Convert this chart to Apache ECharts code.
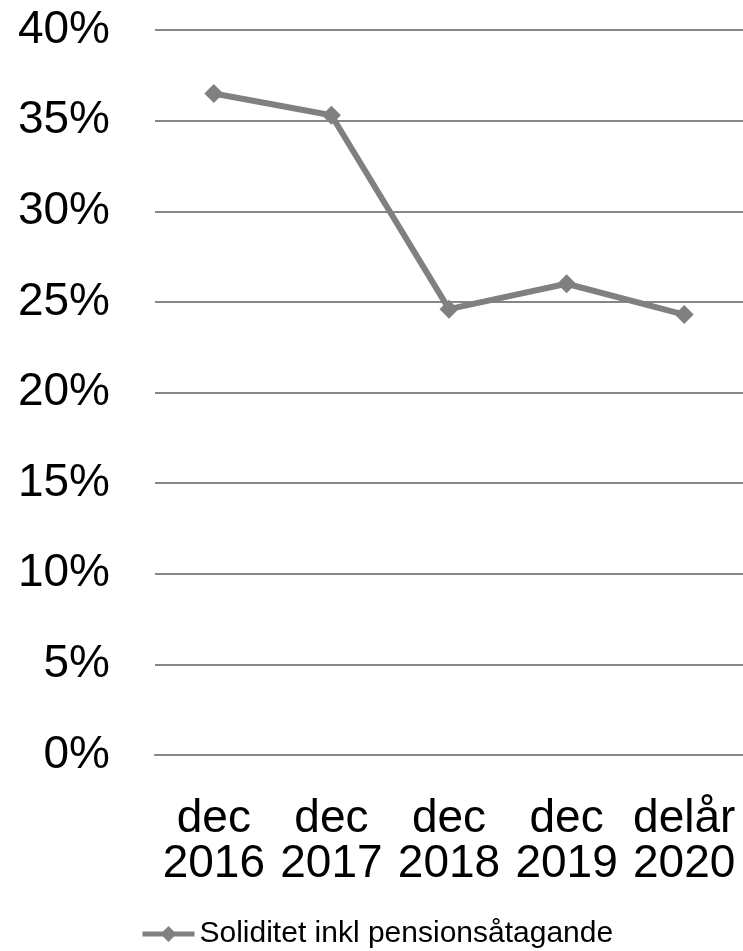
<!DOCTYPE html>
<html>
<head>
<meta charset="utf-8">
<script src="https://cdn.jsdelivr.net/npm/echarts@6/dist/echarts.min.js"></script>
<style>
  html, body { margin: 0; padding: 0; background: #fff; }
  #chart { width: 743px; height: 951px; }
</style>
</head>
<body>
<div id="chart"></div>
<script>
const categories = ['dec\n2016', 'dec\n2017', 'dec\n2018', 'dec\n2019', 'delår\n2020']
const soliditet = [36.5, 35.3, 24.6, 26.0, 24.3]
const seriesName = 'Soliditet inkl pensionsåtagande'

const font = '"Liberation Sans", Arial, sans-serif'
const chart = echarts.init(document.getElementById('chart'))

chart.setOption({
  animation: false,
  grid: { left: 155, right: 0, top: 30, bottom: 196, containLabel: false },
  legend: {
    left: 140,
    top: 919,
    padding: 0,
    itemWidth: 52,
    itemHeight: 20,
    itemGap: 4,
    lineStyle: { width: 5 },
    textStyle: { fontFamily: font, fontSize: 30, color: '#000' },
    data: [seriesName]
  },
  xAxis: {
    type: 'category',
    data: categories,
    boundaryGap: true,
    axisLine: { show: true, lineStyle: { color: '#868686', width: 2 } },
    axisTick: { show: false },
    axisLabel: {
      fontFamily: font,
      fontSize: 46,
      lineHeight: 45,
      color: '#000',
      margin: 42,
      interval: 0
    }
  },
  yAxis: {
    type: 'value',
    min: 0,
    max: 40,
    interval: 5,
    axisLine: { show: false },
    axisTick: { show: false },
    splitLine: { lineStyle: { color: '#868686', width: 2 } },
    axisLabel: {
      fontFamily: font,
      fontSize: 46,
      color: '#000',
      margin: 45,
      formatter: v => v + '%'
    }
  },
  series: [{
    name: seriesName,
    type: 'line',
    data: soliditet,
    symbol: 'diamond',
    symbolSize: 19,
    lineStyle: { color: '#808080', width: 6 },
    itemStyle: { color: '#808080' }
  }]
})
</script>
</body>
</html>
